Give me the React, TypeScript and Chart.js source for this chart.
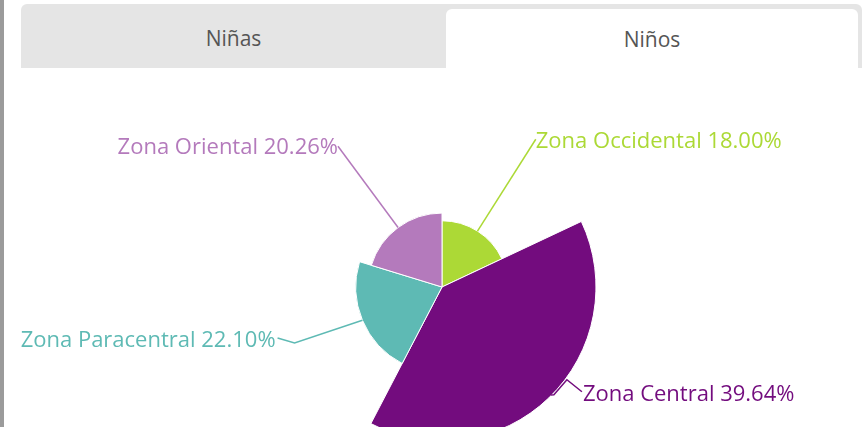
import React, { useEffect, useRef } from "react";
import { Chart, registerables } from "chart.js";

Chart.register(...registerables);

const categories = ["Zona Occidental", "Zona Central", "Zona Paracentral", "Zona Oriental"];
const percentages = [18.0, 39.64, 22.1, 20.26];
const zValues = [43, 100, 56, 48];
const sliceColors = ["#acd936", "#730c7e", "#5ebab4", "#b47abc"];
const tabLabels = ["Niñas", "Niños"];

const FONT = "'Open Sans', sans-serif";

const variableRadiusPlugin = {
  id: "variableRadius",
  afterDatasetsUpdate(chart: any) {
    const meta = chart.getDatasetMeta(0);
    const maxR = meta.controller.outerRadius;
    const zMax = Math.max(...zValues);
    meta.data.forEach((arc: any, i: number) => {
      arc.outerRadius = (maxR * zValues[i]) / zMax;
      arc.innerRadius = 0;
    });
  },
};

const labelPlugin = {
  id: "pieLabels",
  afterDatasetsDraw(chart: any) {
    const ctx = chart.ctx;
    const meta = chart.getDatasetMeta(0);
    const maxR = meta.controller.outerRadius;
    const labelR = maxR + 21;
    const angleOverride: Record<number, number> = { 1: 128, 2: 252 };
    const yShift: Record<number, number> = { 0: 2, 3: 1 };
    ctx.save();
    ctx.font = `22px ${FONT}`;
    ctx.textBaseline = "middle";
    ctx.lineWidth = 1.5;
    meta.data.forEach((arc: any, i: number) => {
      const cx = arc.x;
      const cy = arc.y;
      const mid = (arc.startAngle + arc.endAngle) / 2;
      const ex = cx + Math.cos(mid) * arc.outerRadius;
      const ey = cy + Math.sin(mid) * arc.outerRadius;
      const deg = angleOverride[i];
      const la = deg !== undefined ? ((deg - 90) * Math.PI) / 180 : mid;
      const ax = cx + Math.cos(la) * labelR;
      const ay = cy + Math.sin(la) * labelR;
      const right = Math.cos(la) >= 0;
      const color = sliceColors[i];
      ctx.strokeStyle = color;
      ctx.fillStyle = color;
      ctx.beginPath();
      if (i === 1) {
        ctx.moveTo(ex + 2, ey - 3);
        ctx.lineTo(ax - 26, ay);
        ctx.lineTo(ax - 13, ay - 15);
        ctx.lineTo(ax + 2, ay - 3);
      } else if (i === 2) {
        ctx.moveTo(ex, ey);
        ctx.lineTo(ax + 19, ay + 2);
        ctx.lineTo(ax + 2, ay - 3);
      } else {
        ctx.moveTo(ex, ey);
        ctx.lineTo(ax, ay);
      }
      ctx.stroke();
      const text = `${categories[i]} ${percentages[i].toFixed(2)}%`;
      ctx.textAlign = right ? "left" : "right";
      const tx = i === 1 ? ax + 3 : ax;
      ctx.fillText(text, tx, ay + (yShift[i] || 0));
    });
    ctx.restore();
  },
};

export default function App() {
  const canvasRef = useRef<HTMLCanvasElement | null>(null);

  useEffect(() => {
    document.body.style.margin = "0";
    const canvas = canvasRef.current;
    if (!canvas) return;
    const chart = new Chart(canvas, {
      type: "pie",
      data: {
        labels: categories,
        datasets: [
          {
            data: percentages,
            backgroundColor: sliceColors,
            borderColor: "#ffffff",
            borderWidth: 1,
            clip: false as any,
          },
        ],
      },
      options: {
        responsive: false,
        animation: false,
        events: [],
        radius: 154,
        layout: { padding: { left: 200, right: 179, top: 200, bottom: 53 } },
        plugins: {
          legend: { display: false },
          tooltip: { enabled: false },
        },
      } as any,
      plugins: [variableRadiusPlugin, labelPlugin],
    });
    return () => chart.destroy();
  }, []);

  const tabText: React.CSSProperties = {
    position: "absolute",
    display: "flex",
    alignItems: "center",
    justifyContent: "center",
    color: "#555555",
    fontSize: 21,
  };

  return (
    <div
      style={{
        position: "relative",
        width: 863,
        height: 427,
        overflow: "hidden",
        background: "#ffffff",
        fontFamily: FONT,
      }}
    >
      <div style={{ position: "absolute", left: 0, top: 0, width: 4, height: 427, background: "#9b9b9b" }} />
      <div
        style={{
          position: "absolute",
          left: 21,
          top: 4,
          width: 841,
          height: 64,
          background: "#e5e5e5",
          borderRadius: "6px 6px 0 0",
        }}
      />
      <div
        style={{
          position: "absolute",
          left: 446,
          top: 9,
          width: 412,
          height: 59,
          background: "#ffffff",
          borderRadius: "6px 6px 0 0",
        }}
      />
      <div style={{ ...tabText, left: 21, top: 6, width: 425, height: 64 }}>{tabLabels[0]}</div>
      <div style={{ ...tabText, left: 446, top: 9, width: 412, height: 59 }}>{tabLabels[1]}</div>
      <canvas
        ref={canvasRef}
        width={863}
        height={427}
        style={{ position: "absolute", left: 0, top: 0, width: 863, height: 427 }}
      />
    </div>
  );
}
